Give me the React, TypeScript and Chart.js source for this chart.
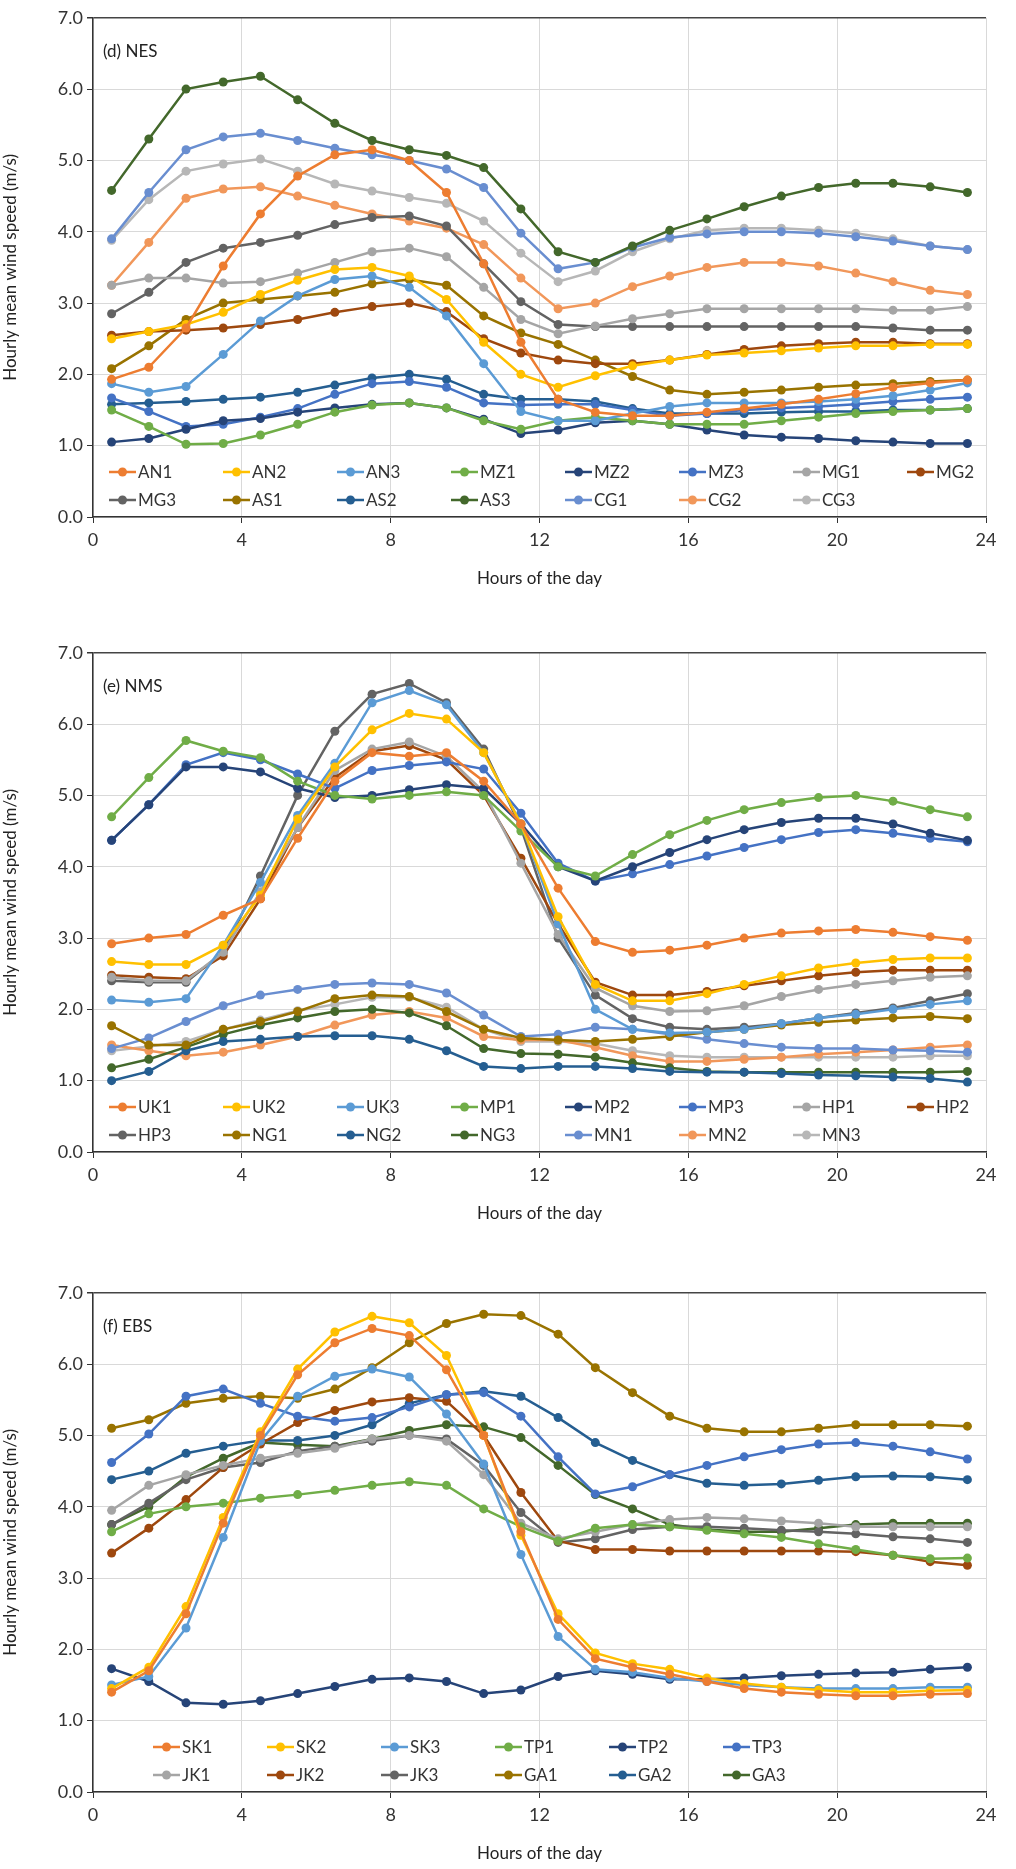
import React, { useEffect, useRef } from "react";
import { Chart, registerables } from "chart.js";
Chart.register(...registerables);

const HOURS = [0.5,1.5,2.5,3.5,4.5,5.5,6.5,7.5,8.5,9.5,10.5,11.5,12.5,13.5,14.5,15.5,16.5,17.5,18.5,19.5,20.5,21.5,22.5,23.5];
const Y_TICKS = [0,1,2,3,4,5,6,7];
const X_TICKS = [0,4,8,12,16,20,24];
const COLORS = ["#ED7D31","#FFC000","#5B9BD5","#70AD47","#264478","#4472C4","#A5A5A5","#9E480E","#636363","#997300","#255E91","#43682B","#698ED0","#F1975A","#B7B7B7"];

// (d) NES
const NES_LABELS = ["AN1","AN2","AN3","MZ1","MZ2","MZ3","MG1","MG2","MG3","AS1","AS2","AS3","CG1","CG2","CG3"];
const AN1 = [1.93,2.1,2.65,3.52,4.25,4.78,5.08,5.15,5.0,4.55,3.55,2.45,1.65,1.47,1.42,1.42,1.47,1.52,1.58,1.65,1.73,1.82,1.88,1.92];
const AN2 = [2.5,2.6,2.7,2.87,3.12,3.32,3.47,3.5,3.38,3.05,2.45,2.0,1.82,1.98,2.12,2.2,2.27,2.3,2.33,2.37,2.4,2.4,2.42,2.42];
const AN3 = [1.87,1.75,1.83,2.28,2.75,3.1,3.33,3.38,3.22,2.82,2.15,1.48,1.35,1.35,1.45,1.55,1.6,1.6,1.6,1.62,1.65,1.7,1.78,1.88];
const MZ1 = [1.5,1.27,1.02,1.03,1.15,1.3,1.47,1.57,1.6,1.53,1.35,1.23,1.35,1.4,1.35,1.3,1.3,1.3,1.35,1.4,1.45,1.48,1.5,1.52];
const MZ2 = [1.05,1.1,1.23,1.35,1.38,1.47,1.53,1.58,1.6,1.53,1.37,1.17,1.22,1.32,1.35,1.3,1.22,1.15,1.12,1.1,1.07,1.05,1.03,1.03];
const MZ3 = [1.67,1.48,1.27,1.3,1.4,1.52,1.72,1.87,1.9,1.82,1.6,1.57,1.58,1.58,1.5,1.42,1.45,1.5,1.53,1.55,1.58,1.62,1.65,1.68];
const MG1 = [3.25,3.35,3.35,3.28,3.3,3.42,3.57,3.72,3.77,3.65,3.22,2.77,2.57,2.68,2.78,2.85,2.92,2.92,2.92,2.92,2.92,2.9,2.9,2.95];
const MG2 = [2.55,2.6,2.62,2.65,2.7,2.77,2.87,2.95,3.0,2.88,2.5,2.3,2.2,2.15,2.15,2.2,2.28,2.35,2.4,2.43,2.45,2.45,2.43,2.43];
const MG3 = [2.85,3.15,3.57,3.77,3.85,3.95,4.1,4.2,4.22,4.08,3.55,3.02,2.7,2.67,2.67,2.67,2.67,2.67,2.67,2.67,2.67,2.65,2.62,2.62];
const AS1 = [2.08,2.4,2.77,3.0,3.05,3.1,3.15,3.27,3.33,3.25,2.82,2.58,2.42,2.2,1.97,1.78,1.72,1.75,1.78,1.82,1.85,1.87,1.9,1.92];
const AS2 = [1.58,1.6,1.62,1.65,1.68,1.75,1.85,1.95,2.0,1.93,1.72,1.65,1.65,1.62,1.52,1.45,1.45,1.45,1.47,1.48,1.48,1.5,1.5,1.52];
const AS3 = [4.58,5.3,6.0,6.1,6.18,5.85,5.52,5.28,5.15,5.07,4.9,4.32,3.72,3.57,3.8,4.02,4.18,4.35,4.5,4.62,4.68,4.68,4.63,4.55];
const CG1 = [3.9,4.55,5.15,5.33,5.38,5.28,5.17,5.08,5.0,4.88,4.62,3.98,3.48,3.57,3.78,3.92,3.97,4.0,4.0,3.98,3.93,3.87,3.8,3.75];
const CG2 = [3.25,3.85,4.47,4.6,4.63,4.5,4.37,4.25,4.15,4.05,3.82,3.35,2.92,3.0,3.23,3.38,3.5,3.57,3.57,3.52,3.42,3.3,3.18,3.12];
const CG3 = [3.88,4.45,4.85,4.95,5.02,4.85,4.67,4.57,4.48,4.4,4.15,3.7,3.3,3.45,3.72,3.9,4.02,4.05,4.05,4.02,3.98,3.9,3.8,3.75];

// (e) NMS
const NMS_LABELS = ["UK1","UK2","UK3","MP1","MP2","MP3","HP1","HP2","HP3","NG1","NG2","NG3","MN1","MN2","MN3"];
const UK1 = [2.92,3.0,3.05,3.32,3.55,4.4,5.2,5.6,5.55,5.6,5.2,4.6,3.7,2.95,2.8,2.83,2.9,3.0,3.07,3.1,3.12,3.08,3.02,2.97];
const UK2 = [2.67,2.63,2.63,2.9,3.6,4.67,5.4,5.92,6.15,6.07,5.6,4.6,3.3,2.35,2.12,2.12,2.22,2.35,2.47,2.58,2.65,2.7,2.72,2.72];
const UK3 = [2.13,2.1,2.15,2.9,3.78,4.72,5.45,6.3,6.47,6.27,5.6,4.6,3.2,2.0,1.72,1.67,1.68,1.72,1.8,1.88,1.93,2.0,2.07,2.12];
const MP1 = [4.7,5.25,5.77,5.62,5.53,5.2,5.0,4.95,5.0,5.05,5.0,4.5,4.0,3.87,4.17,4.45,4.65,4.8,4.9,4.97,5.0,4.92,4.8,4.7];
const MP2 = [4.37,4.87,5.4,5.4,5.33,5.1,4.97,5.0,5.08,5.15,5.1,4.6,4.0,3.8,4.0,4.2,4.38,4.52,4.62,4.68,4.68,4.6,4.47,4.37];
const MP3 = [4.37,4.87,5.43,5.6,5.5,5.3,5.1,5.35,5.42,5.47,5.37,4.75,4.05,3.8,3.9,4.03,4.15,4.27,4.38,4.48,4.52,4.47,4.4,4.35];
const HP1 = [2.45,2.4,2.4,2.8,3.65,4.55,5.35,5.65,5.75,5.55,5.05,4.05,3.05,2.3,2.05,1.97,1.98,2.05,2.18,2.28,2.35,2.4,2.45,2.47];
const HP2 = [2.48,2.45,2.43,2.75,3.55,4.55,5.25,5.62,5.7,5.5,5.0,4.12,3.2,2.38,2.2,2.2,2.25,2.33,2.4,2.47,2.52,2.55,2.55,2.55];
const HP3 = [2.4,2.38,2.38,2.8,3.87,5.0,5.9,6.42,6.57,6.3,5.65,4.55,3.0,2.2,1.87,1.75,1.72,1.75,1.8,1.88,1.95,2.02,2.12,2.22];
const NG1 = [1.77,1.5,1.5,1.72,1.83,1.97,2.15,2.2,2.18,1.97,1.72,1.6,1.57,1.55,1.58,1.62,1.68,1.72,1.78,1.82,1.85,1.88,1.9,1.87];
const NG2 = [1.0,1.13,1.42,1.55,1.58,1.62,1.63,1.63,1.58,1.42,1.2,1.17,1.2,1.2,1.17,1.13,1.12,1.12,1.1,1.08,1.07,1.05,1.03,0.98];
const NG3 = [1.18,1.3,1.47,1.65,1.78,1.88,1.97,2.0,1.95,1.77,1.45,1.38,1.37,1.33,1.25,1.18,1.13,1.12,1.12,1.12,1.12,1.12,1.12,1.13];
const MN1 = [1.45,1.6,1.83,2.05,2.2,2.28,2.35,2.37,2.35,2.23,1.92,1.62,1.65,1.75,1.72,1.65,1.58,1.52,1.47,1.45,1.45,1.43,1.42,1.4];
const MN2 = [1.5,1.42,1.35,1.4,1.5,1.62,1.78,1.92,1.97,1.88,1.62,1.57,1.57,1.47,1.35,1.27,1.27,1.3,1.33,1.37,1.4,1.43,1.47,1.5];
const MN3 = [1.42,1.48,1.55,1.72,1.85,1.98,2.07,2.17,2.17,2.03,1.72,1.55,1.55,1.52,1.42,1.35,1.33,1.33,1.33,1.33,1.33,1.33,1.35,1.35];

// (f) EBS
const EBS_LABELS = ["SK1","SK2","SK3","TP1","TP2","TP3","JK1","JK2","JK3","GA1","GA2","GA3"];
const SK1 = [1.4,1.7,2.5,3.77,5.0,5.85,6.3,6.5,6.4,5.92,5.0,3.65,2.42,1.87,1.75,1.65,1.55,1.45,1.4,1.37,1.35,1.35,1.37,1.38];
const SK2 = [1.45,1.75,2.6,3.85,5.05,5.93,6.45,6.67,6.58,6.12,5.0,3.6,2.5,1.95,1.8,1.72,1.6,1.52,1.47,1.43,1.4,1.4,1.42,1.43];
const SK3 = [1.5,1.62,2.3,3.57,4.92,5.55,5.83,5.93,5.82,5.3,4.6,3.33,2.18,1.72,1.68,1.6,1.55,1.5,1.47,1.45,1.45,1.45,1.47,1.47];
const TP1 = [3.65,3.9,4.0,4.05,4.12,4.17,4.23,4.3,4.35,4.3,3.97,3.72,3.52,3.7,3.75,3.72,3.67,3.62,3.57,3.48,3.4,3.32,3.27,3.28];
const TP2 = [1.73,1.55,1.25,1.23,1.28,1.38,1.48,1.58,1.6,1.55,1.38,1.43,1.62,1.7,1.65,1.58,1.58,1.6,1.63,1.65,1.67,1.68,1.72,1.75];
const TP3 = [4.62,5.02,5.55,5.65,5.45,5.27,5.2,5.25,5.4,5.57,5.6,5.27,4.7,4.18,4.28,4.45,4.58,4.7,4.8,4.88,4.9,4.85,4.77,4.67];
const JK1 = [3.95,4.3,4.45,4.58,4.68,4.75,4.82,4.95,5.0,4.92,4.45,3.77,3.55,3.65,3.75,3.82,3.85,3.83,3.8,3.77,3.72,3.72,3.72,3.72];
const JK2 = [3.35,3.7,4.1,4.55,4.88,5.18,5.35,5.47,5.53,5.48,5.0,4.2,3.52,3.4,3.4,3.38,3.38,3.38,3.38,3.38,3.37,3.32,3.23,3.18];
const JK3 = [3.75,4.05,4.38,4.55,4.62,4.78,4.85,4.92,5.0,4.95,4.58,3.92,3.5,3.55,3.68,3.72,3.72,3.7,3.67,3.65,3.62,3.58,3.55,3.5];
const GA1 = [5.1,5.22,5.45,5.52,5.55,5.52,5.65,5.95,6.3,6.57,6.7,6.68,6.42,5.95,5.6,5.27,5.1,5.05,5.05,5.1,5.15,5.15,5.15,5.13];
const GA2 = [4.38,4.5,4.75,4.85,4.93,4.93,5.0,5.15,5.45,5.57,5.62,5.55,5.25,4.9,4.65,4.45,4.33,4.3,4.32,4.37,4.42,4.43,4.42,4.38];
const GA3 = [3.75,4.0,4.42,4.68,4.9,4.87,4.85,4.95,5.07,5.15,5.12,4.97,4.58,4.17,3.97,3.75,3.68,3.65,3.65,3.7,3.75,3.77,3.77,3.77];

const FONT = "Lato, 'Open Sans', sans-serif";

const legendPlugin = {
  id: "insideLegend",
  afterDraw(chart: any) {
    const cfg = chart.options.plugins.insideLegend;
    if (!cfg) return;
    const ctx = chart.ctx;
    const bottom = chart.chartArea.bottom;
    ctx.save();
    ctx.font = `17px ${FONT}`;
    ctx.textBaseline = "middle";
    chart.data.datasets.forEach((ds: any, i: number) => {
      const row = Math.floor(i / cfg.cols);
      const col = i % cfg.cols;
      const x = cfg.x0 + col * cfg.dx;
      const y = bottom - (row === 0 ? 45 : 17);
      ctx.strokeStyle = ds.borderColor;
      ctx.lineWidth = 2.5;
      ctx.beginPath();
      ctx.moveTo(x, y);
      ctx.lineTo(x + 27, y);
      ctx.stroke();
      ctx.fillStyle = ds.borderColor;
      ctx.beginPath();
      ctx.arc(x + 13.5, y, 4.5, 0, Math.PI * 2);
      ctx.fill();
      ctx.fillStyle = "#333";
      ctx.fillText(ds.label, x + 29, y + 1);
    });
    ctx.fillStyle = "#222";
    ctx.font = `17px ${FONT}`;
    ctx.fillText(cfg.title, chart.chartArea.left + 10, chart.chartArea.top + 34);
    ctx.restore();
  },
};

function Panel({ title, labels, series, top, cols, x0 }: any) {
  const ref = useRef<HTMLCanvasElement>(null);
  useEffect(() => {
    const datasets = labels.map((l: string, i: number) => ({
      label: l,
      data: HOURS.map((h, j) => ({ x: h, y: series[i][j] })),
      borderColor: COLORS[i],
      backgroundColor: COLORS[i],
      borderWidth: 2.5,
      pointRadius: 4.5,
      pointBorderWidth: 0,
      tension: 0,
    }));
    const chart = new Chart(ref.current!, {
      type: "line",
      data: { datasets },
      plugins: [legendPlugin],
      options: {
        animation: false,
        responsive: false,
        layout: { padding: { top: 10, right: 30, left: 0, bottom: 0 } },
        plugins: {
          legend: { display: false },
          tooltip: { enabled: false },
          insideLegend: { cols, x0, dx: 114, title },
        } as any,
        scales: {
          x: {
            type: "linear",
            min: 0,
            max: 24,
            afterBuildTicks: (s: any) => { s.ticks = X_TICKS.map((v) => ({ value: v })); },
            afterFit: (s: any) => { s.height = 76; },
            grid: { color: "#d9d9d9", tickColor: "#333", tickLength: 6 },
            border: { color: "#333", width: 1.5 },
            ticks: { font: { family: FONT, size: 18 }, color: "#333", padding: 6, maxRotation: 0 },
            title: { display: true, text: "Hours of the day", font: { family: FONT, size: 17 }, color: "#222", padding: { top: 4 } },
          },
          y: {
            min: 0,
            max: 7,
            afterBuildTicks: (s: any) => { s.ticks = Y_TICKS.map((v) => ({ value: v })); },
            afterFit: (s: any) => { s.width = 93; },
            grid: { color: (c: any) => (c.tick && c.tick.value === 7 ? "#444" : "#d9d9d9"), lineWidth: (c: any) => (c.tick && c.tick.value === 7 ? 1.5 : 1), tickColor: "#333", tickLength: 6 },
            border: { color: "#333", width: 1.5 },
            ticks: { font: { family: FONT, size: 18 }, color: "#333", padding: 4, callback: (v: any) => Number(v).toFixed(1) },
            title: { display: true, text: "Hourly mean wind speed (m/s)", font: { family: FONT, size: 17 }, color: "#222", padding: 0 },
          },
        },
      } as any,
    });
    return () => chart.destroy();
  }, []);
  return (
    <canvas ref={ref} width={1016} height={590} style={{ position: "absolute", left: 0, top, width: 1016, height: 590 }} />
  );
}

export default function App() {
  return (
    <div style={{ position: "absolute", left: 0, top: 0, width: 1016, height: 1869, background: "#fff", overflow: "hidden" }}>
      <Panel title="(d) NES" labels={NES_LABELS} series={[AN1,AN2,AN3,MZ1,MZ2,MZ3,MG1,MG2,MG3,AS1,AS2,AS3,CG1,CG2,CG3]} top={3} cols={8} x0={109} />
      <Panel title="(e) NMS" labels={NMS_LABELS} series={[UK1,UK2,UK3,MP1,MP2,MP3,HP1,HP2,HP3,NG1,NG2,NG3,MN1,MN2,MN3]} top={638} cols={8} x0={109} />
      <Panel title="(f) EBS" labels={EBS_LABELS} series={[SK1,SK2,SK3,TP1,TP2,TP3,JK1,JK2,JK3,GA1,GA2,GA3]} top={1278} cols={6} x0={153} />
    </div>
  );
}
